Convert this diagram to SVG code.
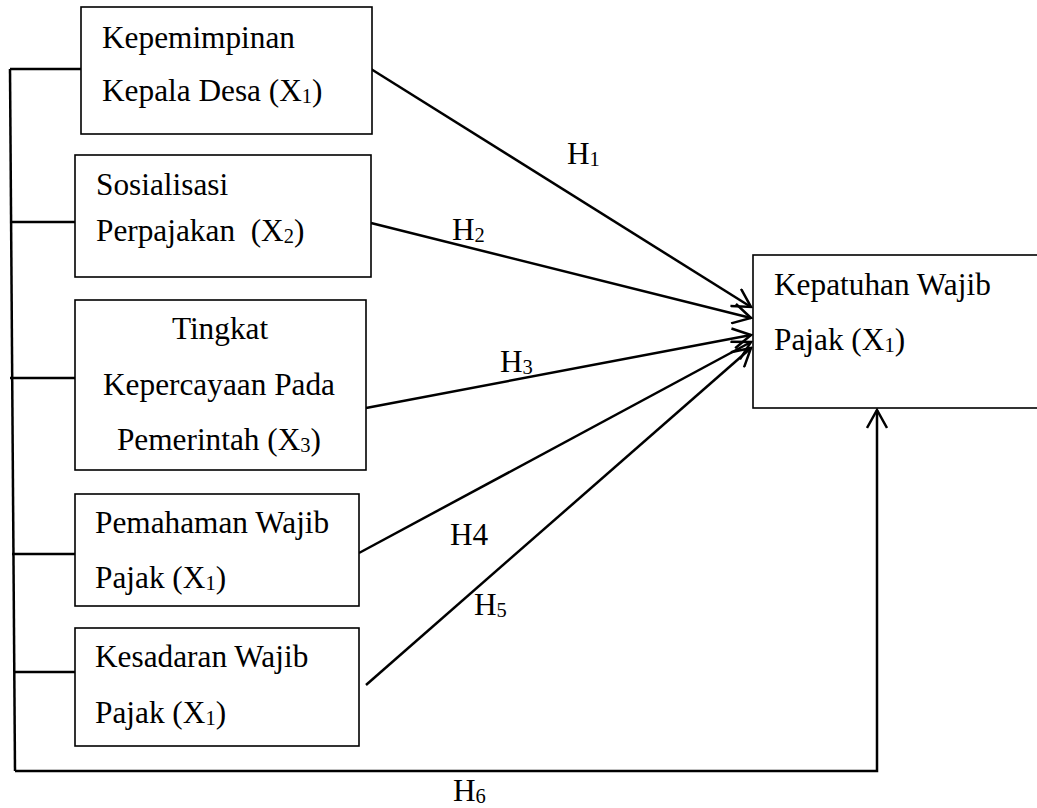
<svg xmlns="http://www.w3.org/2000/svg" width="1037" height="808" viewBox="0 0 1037 808">
<style>
.box{fill:#fff;stroke:#000;stroke-width:1.6}
.t{font-family:"Liberation Serif","Times New Roman",serif;font-size:31.3px;fill:#000;white-space:pre}
.c{text-anchor:middle}
.sub{font-size:20.5px}
.ln{stroke:#000;stroke-width:2.5;fill:none}
.arr{stroke:#000;stroke-width:2.5;fill:none;marker-end:url(#open)}
</style>
<defs>
<marker id="open" viewBox="0 0 22 22" refX="20" refY="11" markerWidth="22" markerHeight="22" markerUnits="userSpaceOnUse" orient="auto">
<path d="M2,1 L20,11 L2,21" fill="none" stroke="#000" stroke-width="2.5"/>
</marker>
</defs>
<g id="connectors">
<line class="ln" x1="10" y1="69" x2="15" y2="771"/>
<line class="ln" x1="10" y1="69" x2="81" y2="69"/>
<line class="ln" x1="11" y1="222" x2="75" y2="222"/>
<line class="ln" x1="10" y1="378" x2="75" y2="378"/>
<line class="ln" x1="12" y1="554" x2="75" y2="554"/>
<line class="ln" x1="14" y1="672" x2="75" y2="672"/>
<polyline class="arr" points="15,771 877,771 877,410"/>
<line class="arr" x1="371" y1="69" x2="751" y2="307"/>
<line class="arr" x1="371" y1="223" x2="751" y2="318"/>
<line class="arr" x1="366" y1="408" x2="751" y2="335"/>
<line class="arr" x1="359" y1="553" x2="751" y2="342"/>
<line class="arr" x1="366" y1="685" x2="751" y2="348"/>
<text class="t" x="567" y="164">H<tspan class="sub" dy="2">1</tspan></text>
<text class="t" x="452" y="240">H<tspan class="sub" dy="2">2</tspan></text>
<text class="t" x="500" y="372">H<tspan class="sub" dy="2">3</tspan></text>
<text class="t" x="450" y="545">H4</text>
<text class="t" x="474" y="615">H<tspan class="sub" dy="2">5</tspan></text>
<text class="t" x="453" y="801">H<tspan class="sub" dy="2">6</tspan></text>
</g>
<g id="x1">
<rect class="box" x="81" y="7" width="291" height="127"/>
<text class="t" x="102" y="48">Kepemimpinan</text>
<text class="t" x="102" y="101">Kepala Desa (X<tspan class="sub" dy="2">1</tspan><tspan dy="-2">)</tspan></text>
</g>
<g id="x2">
<rect class="box" x="75" y="155" width="296" height="122"/>
<text class="t" x="96" y="195">Sosialisasi</text>
<text class="t" x="96" y="241">Perpajakan  (X<tspan class="sub" dy="2">2</tspan><tspan dy="-2">)</tspan></text>
</g>
<g id="x3">
<rect class="box" x="75" y="300" width="291" height="170"/>
<text class="t c" x="220" y="339">Tingkat</text>
<text class="t c" x="219" y="395">Kepercayaan Pada</text>
<text class="t c" x="219" y="450">Pemerintah (X<tspan class="sub" dy="2">3</tspan><tspan dy="-2">)</tspan></text>
</g>
<g id="x4">
<rect class="box" x="75" y="494" width="284" height="112"/>
<text class="t" x="95" y="533">Pemahaman Wajib</text>
<text class="t" x="95" y="588">Pajak (X<tspan class="sub" dy="2">1</tspan><tspan dy="-2">)</tspan></text>
</g>
<g id="x5">
<rect class="box" x="75" y="628" width="284" height="118"/>
<text class="t" x="95" y="667">Kesadaran Wajib</text>
<text class="t" x="95" y="723">Pajak (X<tspan class="sub" dy="2">1</tspan><tspan dy="-2">)</tspan></text>
</g>
<g id="y">
<rect class="box" x="753" y="255" width="300" height="153"/>
<text class="t" x="774" y="295">Kepatuhan Wajib</text>
<text class="t" x="774" y="350">Pajak (X<tspan class="sub" dy="2">1</tspan><tspan dy="-2">)</tspan></text>
</g>
</svg>
